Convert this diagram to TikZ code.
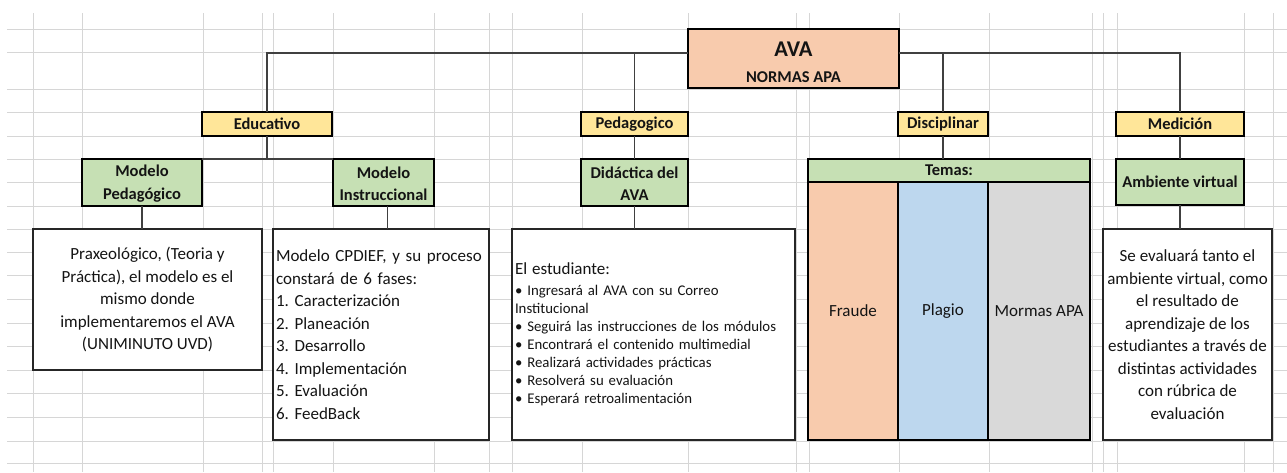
\documentclass[tikz,border=0pt]{standalone}
\usepackage{fontspec}
\setmainfont{Carlito}
\frenchspacing
\definecolor{peach}{HTML}{F8CBAD}
\definecolor{gold}{HTML}{FFE699}
\definecolor{sage}{HTML}{C6E0B4}
\definecolor{sky}{HTML}{BDD7EE}
\definecolor{ash}{HTML}{D9D9D9}
\definecolor{gridc}{HTML}{D6D6D6}
\definecolor{linec}{HTML}{404040}
\definecolor{ink}{HTML}{141414}
\begin{document}
\begin{tikzpicture}[x=1pt,y=-1pt,
  every node/.style={text=ink},
  hbox/.style={draw=black, line width=2.4pt, inner sep=0pt, outer sep=0pt, anchor=north west,
    font=\fontsize{16.5}{22.5}\selectfont\bfseries, align=center},
  cbox/.style={draw=black, line width=2.4pt, inner sep=0pt, outer sep=0pt, anchor=north west,
    font=\fontsize{17}{22}\selectfont, align=center},
  tbox/.style={draw=black!85, line width=1.2pt, fill=white, inner sep=0pt, outer sep=0pt, anchor=north west,
    font=\fontsize{17}{22.5}\selectfont},
  conn/.style={draw=linec, line width=1.3pt},
  gridline/.style={draw=gridc, line width=1pt}]
\useasboundingbox (0,0) rectangle (1287,472);
\fill[white] (0,0) rectangle (1287,472);
% spreadsheet grid
\foreach \yy in {29,52,89,112,136,159,182,206,229,252,275,299,323,346,370,393,417,441,463}
  \draw[gridline] (7,\yy) -- (1287,\yy);
\foreach \xx in {33,82,203,262,273,333,434,489,512,582,688,796,809,899,989,1092,1103,1117,1244,1273}
  \draw[gridline] (\xx,13) -- (\xx,472);
% root
\node[hbox, fill=peach, minimum width=211pt, minimum height=59pt] (ava) at (688,29)
  {\rule{0pt}{23pt}{\fontsize{22.5}{26}\selectfont AVA}\\[3.5pt]NORMAS APA};
% level 1
\node[hbox, fill=gold, minimum width=130pt, minimum height=24pt] (edu) at (202,112) {Educativo};
\node[hbox, fill=gold, minimum width=107pt, minimum height=24pt] (ped) at (581,112) {Pedagogico};
\node[hbox, fill=gold, minimum width=90pt, minimum height=24pt] (dis) at (898,112) {Disciplinar};
\node[hbox, fill=gold, minimum width=128pt, minimum height=24pt] (med) at (1116,112) {Medición};
% level 2
\node[hbox, fill=sage, minimum width=120pt, minimum height=47pt] (mp) at (82,159) {\rule{0pt}{14pt}Modelo\\Pedagógico};
\node[hbox, fill=sage, minimum width=101pt, minimum height=47pt] (mi) at (333,159) {\rule{0pt}{14pt}Modelo\\Instruccional};
\node[hbox, fill=sage, minimum width=107pt, minimum height=47pt] (did) at (581,159) {\rule{0pt}{14pt}Didáctica del\\AVA};
\node[hbox, fill=sage, minimum width=128pt, minimum height=46pt] (amb) at (1116,159) {Ambiente virtual};
\node[hbox, fill=sage, minimum width=282pt, minimum height=23pt] (tem) at (808,159) {Temas:};
\node[cbox, fill=peach, minimum width=90pt, minimum height=258pt] (fra) at (808,182) {Fraude};
\node[cbox, fill=sky, minimum width=90pt, minimum height=258pt] (pla) at (898,182) {Plagio};
\node[cbox, fill=ash, minimum width=102pt, minimum height=258pt] (mor) at (988,182) {Mormas APA};
% text boxes
\node[tbox, align=center, minimum width=229pt, minimum height=141pt] (mpt) at (33,229)
  {Praxeológico, (Teoria y\\Práctica), el modelo es el\\mismo donde\\implementaremos el AVA\\(UNIMINUTO UVD)};
\node[tbox, align=left, text width=210pt, inner xsep=3pt, minimum height=211pt] (mit) at (273,229)
  {Modelo CPDIEF, y su proceso\\constará de 6 fases:\\1. Caracterización\\2. Planeación\\3. Desarrollo\\4. Implementación\\5. Evaluación\\6. FeedBack};
\node[tbox, align=left, text width=277pt, inner xsep=3pt, minimum height=211pt,
  font=\fontsize{14.8}{18}\selectfont] (didt) at (512,229)
  {{\fontsize{17}{18}\selectfont El estudiante:}\\[2.5pt]• Ingresará al AVA con su Correo\\Institucional\\• Seguirá las instrucciones de los módulos\\• Encontrará el contenido multimedial\\• Realizará actividades prácticas\\• Resolverá su evaluación\\• Esperará retroalimentación};
\node[tbox, align=center, minimum width=169pt, minimum height=211pt] (ambt) at (1103,229)
  {Se evaluará tanto el\\ambiente virtual, como\\el resultado de\\aprendizaje de los\\estudiantes a través de\\distintas actividades\\con rúbrica de\\evaluación};
% connectors
\draw[conn] ([yshift=5.5pt]ava.west) -| (edu.north);
\draw[conn] ([yshift=5.5pt]ava.west) -| (ped.north);
\draw[conn] ([yshift=5.5pt]ava.east) -| (dis.north);
\draw[conn] ([yshift=5.5pt]ava.east) -| (med.north);
\draw[conn] (edu.south) -- (edu.south |- mp.north);
\draw[conn] (mp.north east) -- (mi.north west);
\draw[conn] (ped.south) -- (did.north);
\draw[conn] (dis.south) -- (dis.south |- tem.north);
\draw[conn] (med.south) -- (amb.north);
\draw[conn] (mp.south) -- (mp.south |- mpt.north);
\draw[conn] ([xshift=4pt]mi.south) -- ([xshift=4pt]mi.south |- mit.north);
\draw[conn] (did.south) -- (did.south |- didt.north);
\draw[conn] (amb.south) -- (amb.south |- ambt.north);
\end{tikzpicture}
\end{document}
